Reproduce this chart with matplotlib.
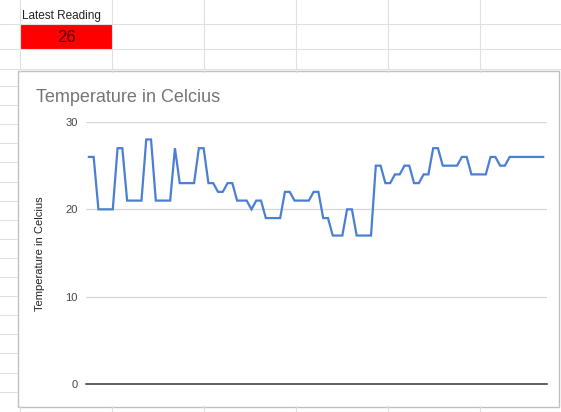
import matplotlib
matplotlib.use("Agg")
import matplotlib.pyplot as plt
from matplotlib.patches import Rectangle

plt.rcParams['font.family'] = ['Liberation Sans', 'DejaVu Sans']

# readings, one per sample (x axis has no labels)
temps = [26, 26,
         20, 20, 20, 20,
         27, 27,
         21, 21, 21, 21,
         28, 28,
         21, 21, 21, 21,
         27,
         23, 23, 23, 23,
         27, 27,
         23, 23,
         22, 22,
         23, 23,
         21, 21, 21,
         20,
         21, 21,
         19, 19, 19, 19,
         22, 22,
         21, 21, 21, 21,
         22, 22,
         19, 19,
         17, 17, 17,
         20, 20,
         17, 17, 17, 17,
         25, 25,
         23, 23,
         24, 24,
         25, 25,
         23, 23,
         24, 24,
         27, 27,
         25, 25, 25, 25,
         26, 26,
         24, 24, 24, 24,
         26, 26,
         25, 25,
         26, 26, 26, 26, 26, 26, 26, 26]
y_ticks = [0, 10, 20, 30]
latest = temps[-1]

W, H = 561, 412
fig = plt.figure(figsize=(W / 100, H / 100), dpi=100)

# spreadsheet background in pixel coordinates
bg = fig.add_axes([0, 0, 1, 1])
bg.set_xlim(0, W)
bg.set_ylim(H, 0)
bg.axis('off')

grid_c = '#e0e0e0'
for x in [20, 112, 204, 296, 388, 480]:
    bg.plot([x, x], [0, 72], color=grid_c, lw=0.8)
    bg.plot([x, x], [406, H], color=grid_c, lw=0.8)
for y in [24, 49, 69]:
    bg.plot([0, W], [y, y], color=grid_c, lw=0.8)
for i in range(17):
    y = 86 + i * 19.1
    bg.plot([0, 17], [y, y], color=grid_c, lw=0.8)

bg.text(22, 16, "Latest Reading", fontsize=8.5, color='#222222', va='center', ha='left')
bg.add_patch(Rectangle((20, 24), 92, 25, facecolor='#ff0000', edgecolor='none'))
bg.text(66, 37, str(latest), fontsize=12, color='#4a0000', va='center', ha='center')

# chart frame
bg.add_patch(Rectangle((18, 71), 541, 336, facecolor='white', edgecolor='#c0c0c0', lw=1))
bg.text(36, 97, "Temperature in Celcius", fontsize=13, color='#757575', va='center', ha='left')
bg.text(40, 254, "Temperature in Celcius", fontsize=8, color='#222222', va='center',
        ha='center', rotation=90)

# plot area
ax = fig.add_axes([86 / W, 1 - 384 / H, (547 - 86) / W, (384 - 122) / H])
ax.patch.set_alpha(0)
x = list(range(len(temps)))
ax.plot(x, temps, color='#4a7fd3', lw=1.6, solid_joinstyle='miter', zorder=3)
ax.set_ylim(0, 30)
ax.set_xlim(-0.6, len(temps) - 1 + 0.8)
ax.set_yticks(y_ticks)
ax.set_yticklabels([str(t) for t in y_ticks])
ax.set_xticks([])
for t in y_ticks[1:]:
    ax.axhline(t, color='#d6d6d6', lw=0.9, zorder=1)
ax.axhline(0, color='#333333', lw=1.1, zorder=2, clip_on=False)
ax.tick_params(axis='y', length=0, pad=6, labelsize=8, labelcolor='#444444')
for s in ax.spines.values():
    s.set_visible(False)

fig.savefig("out.png", dpi=100)
